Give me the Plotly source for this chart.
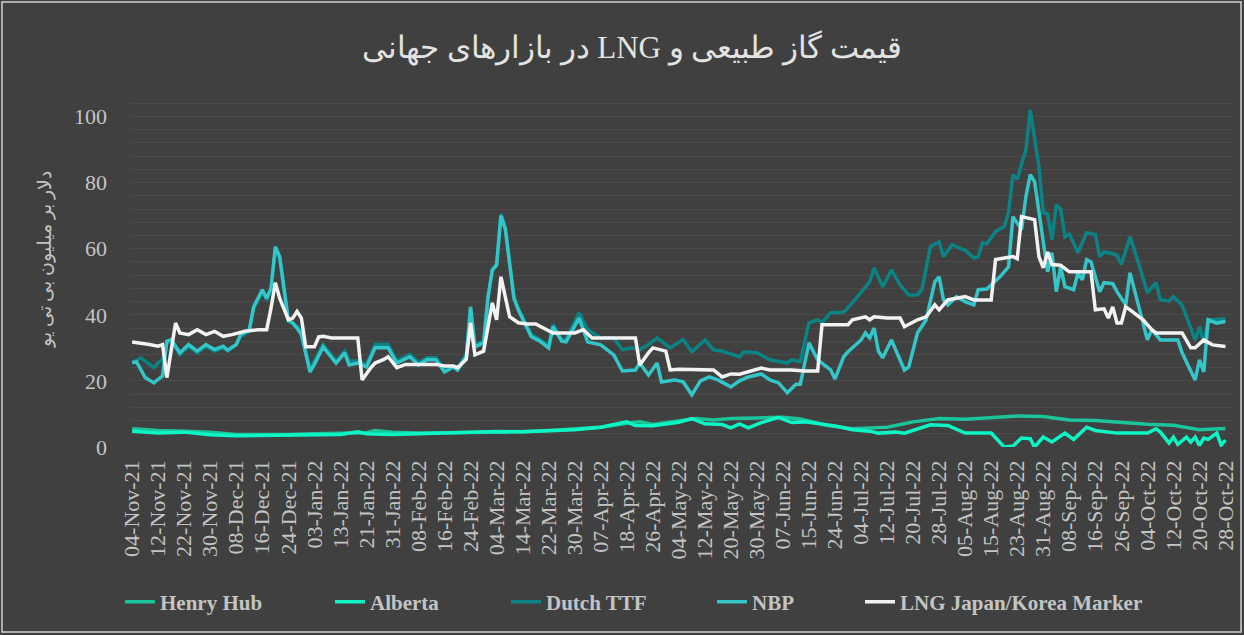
import plotly.graph_objects as go

# ---- tick labels (category axis: trading days, one label every 6 trading days) ----
tick_labels = ["04-Nov-21", "12-Nov-21", "22-Nov-21", "30-Nov-21", "08-Dec-21", "16-Dec-21",
               "24-Dec-21", "03-Jan-22", "13-Jan-22", "21-Jan-22", "31-Jan-22", "08-Feb-22",
               "16-Feb-22", "24-Feb-22", "04-Mar-22", "14-Mar-22", "22-Mar-22", "30-Mar-22",
               "07-Apr-22", "18-Apr-22", "26-Apr-22", "04-May-22", "12-May-22", "20-May-22",
               "30-May-22", "07-Jun-22", "15-Jun-22", "24-Jun-22", "04-Jul-22", "12-Jul-22",
               "20-Jul-22", "28-Jul-22", "05-Aug-22", "15-Aug-22", "23-Aug-22", "31-Aug-22",
               "08-Sep-22", "16-Sep-22", "26-Sep-22", "04-Oct-22", "12-Oct-22", "20-Oct-22",
               "28-Oct-22"]
tick_step = 6  # trading days between labels

# ---- series: (trading-day index, value $/MMBtu) ----
hh_idx = [0, 6, 12, 18, 24, 30, 36, 42, 48, 54, 56, 60, 66, 72, 78, 84, 90, 96, 102, 108, 114, 117,
          120, 126, 130, 134, 138, 144, 150, 154, 160, 166, 170, 174, 180, 186, 192, 198, 204, 210,
          216, 222, 228, 234, 240, 246, 252]
hh_val = [5.5, 5.0, 4.8, 4.5, 3.8, 3.7, 3.8, 4.0, 4.2, 4.3, 5.0, 4.5, 4.2, 4.3, 4.6, 4.7, 4.6, 5.0,
          5.4, 6.0, 7.2, 7.6, 6.8, 7.8, 8.6, 8.2, 8.6, 8.8, 9.0, 8.5, 6.6, 5.5, 5.8, 6.0, 7.6, 8.6,
          8.4, 8.8, 9.4, 9.2, 8.2, 8.0, 7.4, 6.9, 6.6, 5.2, 5.6]

ab_idx = [0, 6, 12, 18, 24, 30, 36, 42, 48, 52, 54, 60, 66, 72, 78, 84, 90, 96, 102, 108, 114, 116,
          120, 126, 129, 132, 136, 138, 140, 142, 145, 149, 152, 155, 158, 162, 166, 170, 172, 176,
          178, 184, 188, 192, 198, 201, 203, 205, 207, 208, 210, 212, 215, 217, 220, 222, 227, 234,
          236, 237, 239, 240, 241, 243, 244, 245, 246, 247, 248, 250, 251, 252]
ab_val = [4.8, 4.2, 4.5, 3.7, 3.4, 3.5, 3.4, 3.6, 3.8, 4.6, 4.0, 3.8, 4.0, 4.2, 4.6, 4.7, 4.6, 4.9,
          5.2, 6.0, 7.6, 6.5, 6.4, 7.5, 8.6, 7.0, 6.8, 5.8, 7.0, 5.8, 7.4, 9.0, 7.4, 7.6, 7.2, 6.4,
          5.2, 4.8, 4.2, 4.5, 4.2, 6.7, 6.5, 4.2, 4.2, 0.0, 0.3, 2.7, 2.5, 0.0, 3.0, 1.5, 4.2, 2.3,
          6.0, 5.0, 4.2, 4.2, 5.5, 4.5, 1.2, 3.0, 0.8, 3.0, 1.5, 3.0, 0.5, 2.7, 2.3, 4.2, 0.6, 2.1]

nbp_idx = [0, 1, 3, 5, 6, 7, 8, 9, 11, 13, 15, 17, 19, 21, 22, 24, 25, 27, 28, 30, 31, 32, 33, 34,
           36, 37, 38, 39, 41, 42, 44, 47, 49, 50, 52, 54, 56, 59, 61, 64, 66, 68, 70, 72, 74, 75,
           77, 78, 79, 81, 82, 83, 84, 85, 86, 88, 89, 91, 92, 94, 96, 97, 99, 100, 103, 105, 108,
           111, 113, 116, 117, 119, 121, 122, 125, 127, 129, 131, 133, 135, 138, 140, 142, 145, 147,
           149, 151, 153, 154, 156, 158, 161, 162, 164, 165, 168, 169, 170, 171, 172, 173, 175, 178,
           179, 181, 183, 185, 186, 187, 188, 190, 192, 194, 195, 197, 200, 202, 203, 205, 206, 207,
           208, 210, 211, 212, 213, 214, 215, 217, 218, 219, 220, 221, 223, 224, 226, 227, 229, 230,
           232, 234, 235, 237, 241, 242, 245, 246, 247, 248, 250, 252]
nbp_val = [25.5, 25.8, 21.0, 19.4, 20.5, 21.5, 32.0, 32.5, 28.5, 31.0, 29.0, 31.0, 29.5, 30.5, 29.3,
           31.0, 34.0, 35.5, 42.4, 47.6, 45.0, 48.0, 60.6, 57.6, 38.5, 37.5, 36.0, 34.0, 22.7, 25.0,
           30.3, 25.4, 28.5, 24.8, 25.4, 24.2, 30.0, 30.0, 25.4, 27.3, 24.8, 26.5, 26.4, 22.7, 24.2,
           23.3, 27.3, 42.4, 30.3, 31.5, 45.0, 53.6, 55.0, 70.0, 66.0, 45.0, 41.5, 36.0, 33.4, 32.0,
           30.0, 36.4, 32.0, 31.8, 39.0, 31.8, 30.9, 27.9, 23.0, 23.3, 25.4, 21.8, 25.4, 19.7, 20.3,
           19.7, 15.8, 20.0, 21.2, 20.3, 18.2, 20.0, 21.2, 22.1, 20.3, 19.4, 16.4, 19.0, 19.0, 31.5,
           26.4, 23.3, 20.6, 27.3, 28.8, 32.4, 34.5, 33.0, 36.0, 29.0, 27.0, 32.4, 23.3, 24.2, 34.5,
           38.5, 50.0, 51.5, 44.5, 43.0, 45.5, 44.0, 43.0, 47.6, 47.8, 51.5, 54.5, 69.7, 65.8, 75.8,
           82.4, 80.3, 62.7, 53.0, 58.8, 47.0, 54.5, 48.5, 47.6, 52.7, 50.6, 56.7, 56.0, 47.0, 49.7,
           49.4, 47.0, 43.0, 52.7, 42.4, 32.4, 35.5, 32.4, 32.4, 28.5, 20.3, 26.4, 22.7, 38.5, 37.5,
           38.0]

ttf_idx = [0, 2, 5, 6, 7, 8, 9, 11, 13, 15, 17, 19, 21, 22, 24, 25, 27, 28, 30, 31, 32, 33, 34, 36,
           37, 38, 39, 41, 42, 44, 47, 49, 50, 52, 54, 56, 59, 61, 64, 66, 68, 70, 72, 74, 75, 77, 78,
           79, 81, 82, 83, 84, 85, 86, 88, 89, 91, 92, 94, 96, 97, 99, 100, 103, 105, 108, 111, 113,
           115, 117, 119, 121, 124, 127, 129, 132, 134, 136, 140, 141, 144, 147, 151, 152, 154, 156,
           158, 159, 161, 164, 166, 168, 170, 171, 173, 174, 175, 177, 178, 179, 181, 182, 184, 186,
           187, 189, 191, 192, 194, 195, 196, 197, 199, 201, 202, 203, 204, 206, 207, 209, 210, 211,
           212, 213, 214, 215, 216, 218, 220, 222, 223, 224, 226, 227, 228, 230, 232, 234, 236, 237,
           239, 240, 242, 245, 246, 247, 248, 249, 252]
ttf_val = [25.5, 27.0, 24.0, 25.5, 26.5, 31.5, 32.0, 28.0, 30.5, 28.5, 30.5, 29.0, 30.0, 29.0, 31.0,
           33.5, 35.0, 42.0, 47.0, 44.5, 47.5, 59.5, 57.0, 38.0, 37.5, 36.5, 35.0, 23.5, 26.0, 31.0,
           26.0, 29.0, 26.0, 26.0, 25.0, 31.0, 31.0, 26.0, 28.0, 25.5, 27.0, 27.0, 23.5, 24.5, 24.0,
           28.0, 42.0, 31.0, 32.0, 45.5, 53.0, 55.5, 70.5, 66.5, 45.5, 42.0, 36.5, 34.0, 32.5, 30.5,
           37.0, 32.5, 32.5, 40.6, 35.5, 33.0, 33.0, 29.4, 30.0, 29.4, 31.0, 33.0, 30.0, 32.5, 28.8,
           32.4, 29.4, 29.0, 27.3, 28.8, 28.5, 26.4, 25.4, 26.4, 25.8, 37.6, 38.5, 37.6, 40.6, 40.8,
           43.6, 46.7, 50.0, 54.2, 48.5, 51.0, 53.6, 49.0, 47.6, 46.0, 46.0, 47.6, 60.6, 62.1, 57.6,
           61.2, 60.0, 59.5, 57.2, 57.6, 61.8, 61.5, 65.2, 66.7, 70.9, 82.4, 81.0, 90.0, 102.0, 84.8,
           70.9, 70.5, 62.7, 73.3, 72.0, 63.6, 64.5, 58.8, 64.8, 64.3, 57.6, 59.0, 58.5, 58.0, 55.2,
           63.6, 55.5, 46.7, 49.7, 44.5, 44.2, 45.5, 43.0, 32.4, 36.4, 31.5, 38.5, 38.5, 38.8, 39.4]

lng_idx = [0, 2, 4, 6, 7, 8, 10, 11, 13, 15, 17, 19, 21, 23, 26, 29, 31, 32, 33, 34, 36, 37, 38, 39,
           40, 42, 43, 44, 46, 52, 53, 55, 56, 58, 59, 61, 63, 67, 70, 72, 74, 75, 77, 78, 79, 81, 83,
           84, 85, 87, 89, 91, 93, 97, 102, 104, 106, 116, 117, 119, 120, 123, 124, 126, 130, 134,
           136, 138, 140, 145, 147, 150, 152, 155, 158, 159, 165, 166, 169, 170, 171, 174, 177, 178,
           181, 183, 185, 186, 188, 192, 194, 198, 199, 203, 204, 205, 208, 209, 210, 211, 212, 214,
           216, 221, 222, 224, 225, 226, 227, 228, 229, 230, 233, 235, 236, 242, 244, 245, 247, 249,
           252]
lng_val = [31.8, 31.5, 31.0, 30.5, 31.0, 21.0, 37.5, 34.5, 34.0, 35.5, 34.0, 35.0, 33.5, 34.0, 35.0,
           35.5, 35.5, 42.0, 49.7, 45.0, 38.5, 39.0, 41.0, 39.0, 30.3, 30.3, 33.3, 33.5, 33.0, 33.0,
           20.3, 24.0, 25.4, 26.5, 27.3, 24.0, 25.0, 25.0, 25.0, 24.5, 24.5, 24.0, 26.5, 37.5, 27.9,
           29.0, 43.6, 38.5, 51.5, 39.4, 37.6, 37.2, 37.2, 34.5, 34.5, 35.5, 33.0, 33.0, 24.8, 28.5,
           30.0, 29.0, 23.3, 23.5, 23.5, 23.3, 21.2, 22.1, 22.0, 23.9, 23.3, 23.3, 23.3, 23.0, 23.0,
           37.0, 37.0, 38.5, 39.4, 38.5, 39.4, 39.0, 39.0, 36.4, 38.5, 39.4, 43.0, 41.5, 44.5, 45.5,
           44.5, 44.5, 56.7, 57.6, 57.0, 69.7, 68.8, 57.6, 54.2, 59.0, 55.2, 55.0, 53.0, 53.0, 41.5,
           41.8, 39.0, 42.4, 37.5, 37.5, 42.4, 41.5, 38.5, 35.5, 34.5, 34.5, 30.0, 30.0, 32.4, 30.9,
           30.4]

series = [
    ("Henry Hub", hh_idx, hh_val, "#1cc49c"),
    ("Alberta", ab_idx, ab_val, "#0df5c5"),
    ("Dutch TTF", ttf_idx, ttf_val, "#0b8385"),
    ("NBP", nbp_idx, nbp_val, "#33c5c8"),
    ("LNG Japan/Korea Marker", lng_idx, lng_val, "#f2f2f2"),
]

title_text = "قیمت گاز طبیعی و LNG در بازارهای جهانی"
ytitle_text = "دلار بر میلیون بی تی یو"

serif = "Liberation Serif, Times New Roman, DejaVu Serif, serif"
label_col = "#c4c4c4"

W, H = 1244, 635
ML, MR, MT, MB = 130, 12, 100, 188
PW, PH = W - ML - MR, H - MT - MB

def px_x(p):  # page pixel -> paper x
    return (p - ML) / PW

def px_y(p):  # page pixel -> paper y
    return (MT + PH - p) / PH

legend_text_left = [160, 370, 546, 752, 900]  # where each legend label starts (px)

fig = go.Figure()
legend_layouts = {}
for k, (name, xi, yv, col) in enumerate(series):
    lg = "legend" if k == 0 else f"legend{k + 1}"
    fig.add_trace(go.Scatter(x=xi, y=yv, mode="lines", name=name, legend=lg,
                             line=dict(color=col, width=3.5)))
    legend_layouts[lg] = dict(
        orientation="h", x=px_x(legend_text_left[k] - 40), xanchor="left",
        y=px_y(602), yanchor="middle",
        font=dict(family=serif, size=21, color=label_col, weight="bold"),
        bgcolor="rgba(0,0,0,0)")

n_days = (len(tick_labels) - 1) * tick_step
fig.update_layout(
    width=W, height=H,
    paper_bgcolor="#404040", plot_bgcolor="#404040",
    margin=dict(l=ML, r=MR, t=MT, b=MB, autoexpand=False),
    title=dict(text="\u202b" + title_text + "\u202c",
               x=632 / W, xanchor="center", y=1 - 47 / H, yanchor="middle",
               font=dict(family=serif, size=31, color="#e3e3e3")),
    showlegend=True,
    shapes=[dict(type="rect", xref="paper", yref="paper",
                 x0=px_x(2), x1=px_x(1241), y0=px_y(632), y1=px_y(2),
                 line=dict(color="#d0d0d0", width=1.5), fillcolor="rgba(0,0,0,0)", layer="below")],
    annotations=[dict(text=ytitle_text, xref="paper", yref="paper",
                      x=px_x(45), y=px_y(260), xanchor="center", yanchor="middle",
                      textangle=-90, showarrow=False,
                      font=dict(family=serif, size=19, color=label_col))],
    **legend_layouts,
)
fig.update_xaxes(
    range=[-0.5, n_days + 1.5],
    tickmode="array",
    tickvals=[k * tick_step for k in range(len(tick_labels))],
    ticktext=tick_labels,
    tickangle=-90,
    tickfont=dict(family=serif, size=22, color=label_col),
    showgrid=False, zeroline=False, showline=False, ticks="",
    ticklabelstandoff=8,
)
fig.update_yaxes(
    range=[0, 105],
    dtick=20, tick0=0,
    tickfont=dict(family=serif, size=22, color=label_col),
    showgrid=True, gridcolor="#4b4b4b", gridwidth=1,
    minor=dict(dtick=4, showgrid=True, gridcolor="#4b4b4b", gridwidth=1),
    zeroline=False, showline=False, ticks="",
    ticklabelstandoff=22,
)

fig.write_html("out.html", config={"displayModeBar": False},
               post_script="document.body.style.margin='0px';")
